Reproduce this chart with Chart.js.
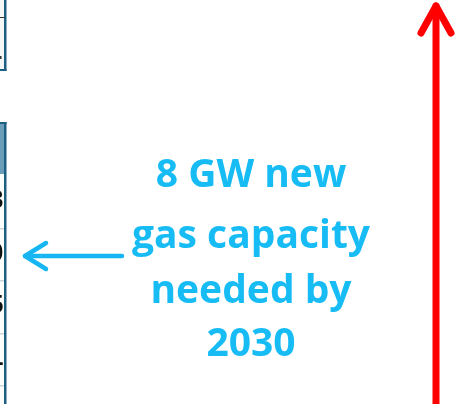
<!DOCTYPE html>
<html>
<head>
<meta charset="utf-8">
<script src="https://cdn.jsdelivr.net/npm/chart.js@4"></script>
<style>
  html, body { margin: 0; padding: 0; background: #fff; }
  #wrap { width: 462px; height: 404px; }
</style>
</head>
<body>
<div id="wrap"><canvas id="chart" width="462" height="404"></canvas></div>
<script>
// Anotaciones del recorte
var textLines = ['8 GW new', 'gas capacity', 'needed by', '2030'];
var textBaselines = [187, 248, 303, 356];
var textCenterX = 251;

var blueShaft = [{x: 122, y: 256}, {x: 25, y: 256}];
var blueHead = [{x: 46, y: 243}, {x: 25, y: 256}, {x: 46, y: 269}];
var redShaft = [{x: 436, y: 410}, {x: 436, y: 6}];
var redHead = [{x: 421, y: 33}, {x: 436, y: 6}, {x: 451, y: 33}];

// Tabla cortada a la izquierda
var tableDigits = ['3', '0', '5', '1'];
var rowLines = [228, 280, 333, 385];
var digitRows = [201, 254, 306, 358];

var tablePlugin = {
    id: 'tabla',
    beforeDatasetsDraw: function(chart) {
        var c = chart.ctx, sx = chart.scales.x, sy = chart.scales.y;
        c.save();
        // bloque superior
        c.fillStyle = '#f4f6f8';
        c.fillRect(0, sy.getPixelForValue(0), sx.getPixelForValue(4), sy.getPixelForValue(70));
        c.fillStyle = '#1d5f82';
        c.fillRect(sx.getPixelForValue(4), sy.getPixelForValue(0), 2.5, sy.getPixelForValue(71));
        c.fillRect(0, sy.getPixelForValue(69), sx.getPixelForValue(6.5), 2);
        c.fillStyle = '#333';
        c.fillRect(0, sy.getPixelForValue(17), sx.getPixelForValue(5), 1);
        c.fillRect(0, sy.getPixelForValue(56), 1.5, 3);
        // cabecera
        c.fillStyle = '#1d5f82';
        c.fillRect(0, sy.getPixelForValue(122), sx.getPixelForValue(6.5), 2);
        c.fillStyle = '#6a9db7';
        c.fillRect(0, sy.getPixelForValue(124), sx.getPixelForValue(4), 50);
        c.fillStyle = '#1d5f82';
        c.fillRect(sx.getPixelForValue(4), sy.getPixelForValue(122), 2.5, 404 - 122);
        // separadores de filas
        c.fillStyle = '#c9d6de';
        rowLines.forEach(function(y) {
            c.fillRect(0, sy.getPixelForValue(y), sx.getPixelForValue(4), 1.5);
        });
        // cifras
        c.fillStyle = '#111';
        c.font = 'bold 26px "Liberation Sans", sans-serif';
        c.textAlign = 'right';
        c.textBaseline = 'middle';
        tableDigits.forEach(function(d, i) {
            c.fillText(d, sx.getPixelForValue(3.5), sy.getPixelForValue(digitRows[i]));
        });
        c.restore();
    },
    afterDatasetsDraw: function(chart) {
        var c = chart.ctx, sx = chart.scales.x, sy = chart.scales.y;
        c.save();
        c.fillStyle = '#17bcf5';
        c.font = 'bold 39px "Open Sans", sans-serif';
        c.textAlign = 'center';
        c.textBaseline = 'alphabetic';
        textLines.forEach(function(t, i) {
            c.fillText(t, sx.getPixelForValue(textCenterX), sy.getPixelForValue(textBaselines[i]));
        });
        c.restore();
    }
};

function seg(points, color, width) {
    return {
        data: points,
        showLine: true,
        borderColor: color,
        borderWidth: width,
        borderCapStyle: 'round',
        borderJoinStyle: 'round',
        pointRadius: 0,
        fill: false
    };
}

var chart = new Chart(document.getElementById('chart').getContext('2d'), {
    type: 'scatter',
    data: {
        datasets: [
            seg(blueShaft, '#17b6f2', 4.5),
            seg(blueHead, '#17b6f2', 4.5),
            seg(redShaft, '#ff0000', 7),
            seg(redHead, '#ff0000', 7)
        ]
    },
    options: {
        responsive: false,
        animation: false,
        layout: { padding: 0 },
        plugins: { legend: { display: false }, tooltip: { enabled: false } },
        scales: {
            x: { type: 'linear', min: 0, max: 462, display: false },
            y: { type: 'linear', min: 0, max: 404, reverse: true, display: false }
        }
    },
    plugins: [tablePlugin]
});
</script>
</body>
</html>
